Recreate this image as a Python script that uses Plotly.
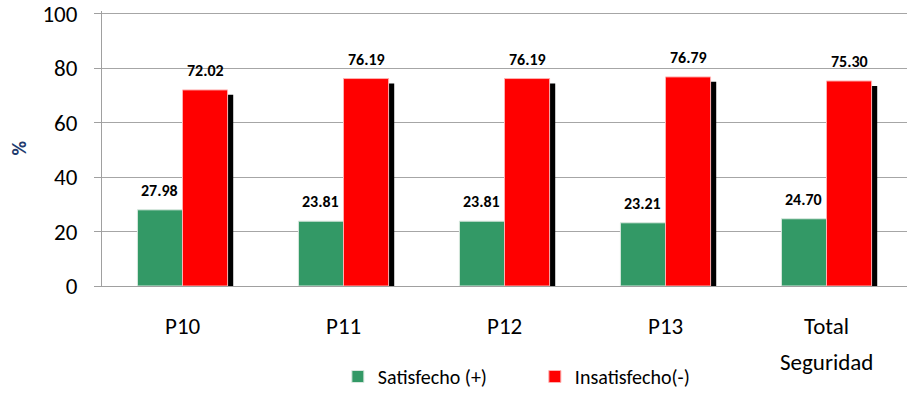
import plotly.graph_objects as go

# Survey results per question (percent)
categories = ["P10", "P11", "P12", "P13", "Total Seguridad"]
category_lines = [["P10"], ["P11"], ["P12"], ["P13"], ["Total", "Seguridad"]]
satisfecho = [27.98, 23.81, 23.81, 23.21, 24.70]
insatisfecho = [72.02, 76.19, 76.19, 76.79, 75.30]
series_names = ["Satisfecho (+)", "Insatisfecho(-)"]
y_ticks = [0, 20, 40, 60, 80, 100]
y_title = "%"

GREEN = "#339966"
RED = "#ff0000"
FONT = "Carlito, Lato, 'Liberation Sans', sans-serif"
BAR_W = 0.28

fig = go.Figure()

# drop shadow behind the red bars
fig.add_trace(go.Bar(
    x=categories, y=insatisfecho, base=-1.8,
    width=BAR_W, offset=0.035,
    marker=dict(color="black", line=dict(width=0)),
    showlegend=False, hoverinfo="skip",
))
fig.add_trace(go.Bar(
    x=categories, y=satisfecho, name=series_names[0],
    width=BAR_W, offset=-BAR_W,
    marker=dict(color=GREEN, line=dict(color="#d9e8df", width=1)),
))
fig.add_trace(go.Bar(
    x=categories, y=insatisfecho, name=series_names[1],
    width=BAR_W, offset=0,
    marker=dict(color=RED, line=dict(color="#ffb0b0", width=1)),
))

annotations = []
# value labels above each bar
for i, (s, r) in enumerate(zip(satisfecho, insatisfecho)):
    for val, xc in ((s, i - BAR_W / 2), (r, i + BAR_W / 2)):
        annotations.append(dict(
            x=xc, y=val, xref="x", yref="y",
            text=f"<b>{val:.2f}</b>", showarrow=False,
            yanchor="bottom", yshift=8,
            font=dict(family=FONT, size=16, color="black"),
        ))

# category labels under the axis (multi-line with wide spacing)
for i, lines in enumerate(category_lines):
    for j, line in enumerate(lines):
        annotations.append(dict(
            x=i, y=0, xref="x", yref="y",
            text=line, showarrow=False,
            yanchor="middle", yshift=-40 - 36 * j,
            font=dict(family=FONT, size=23, color="black"),
        ))

# rotated y-axis title
annotations.append(dict(
    x=0, y=0.5, xref="paper", yref="paper", xshift=-84,
    text=f"<b>{y_title}</b>", textangle=-90, showarrow=False,
    xanchor="center", yanchor="middle",
    font=dict(family=FONT, size=20, color="#1f3c6e"),
))

fig.update_layout(
    width=907, height=396,
    margin=dict(l=102, r=0, t=9, b=109),
    paper_bgcolor="white", plot_bgcolor="white",
    barmode="overlay",
    font=dict(family=FONT, color="black"),
    annotations=annotations,
    legend=dict(
        orientation="h", x=0.293, xanchor="left", y=-0.33, yanchor="middle",
        font=dict(family=FONT, size=20, color="black"),
        entrywidth=152, entrywidthmode="pixels",
        traceorder="normal",
    ),
    xaxis=dict(
        type="category", categoryorder="array", categoryarray=categories,
        range=[-0.5, len(categories) - 0.5],
        showgrid=False, showline=True, linecolor="#a0a0a0", linewidth=1,
        ticks="", showticklabels=False,
    ),
    yaxis=dict(
        range=[0, 101], tickvals=y_ticks,
        showgrid=True, gridcolor="#a6a6a6", gridwidth=1,
        showline=True, linecolor="#a0a0a0", linewidth=1,
        ticks="outside", ticklen=7, tickcolor="#a0a0a0",
        tickfont=dict(family=FONT, size=23, color="black"),
        ticklabelstandoff=12, ticklabeloverflow="allow",
        zeroline=False,
    ),
)

fig.write_html("out.html")
